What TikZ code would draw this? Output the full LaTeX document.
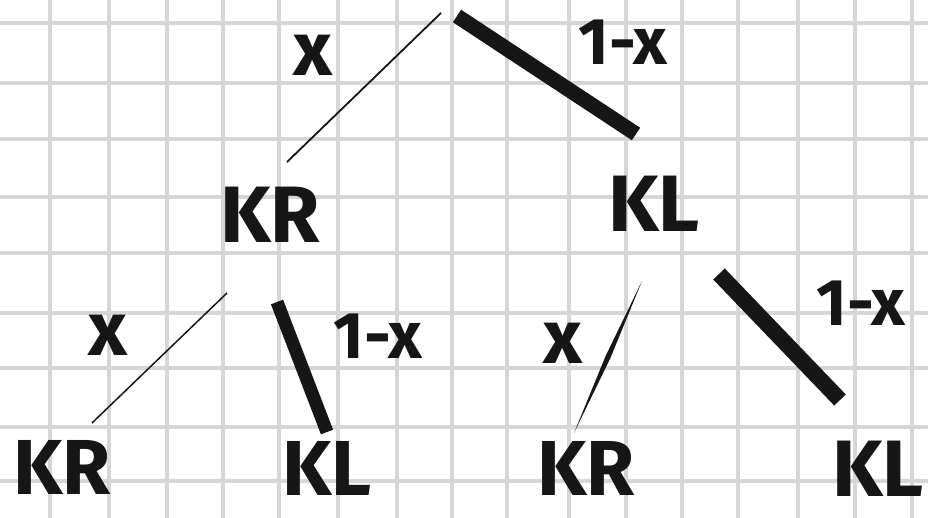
\documentclass[tikz,border=0pt]{standalone}
\usepackage{fontspec}
\setmainfont{Fira Sans}
\usetikzlibrary{calc}
\definecolor{gridgray}{RGB}{214,214,214}
\definecolor{ink}{RGB}{22,22,22}
\tikzset{
  gridline/.style={draw=gridgray,line width=4.5pt},
  state/.style={inner sep=0pt,anchor=base,text=ink,font=\fontsize{80}{80}\selectfont\bfseries},
  prob/.style={inner sep=0pt,anchor=base,text=ink,font=\fontsize{66}{66}\selectfont\bfseries},
  probx/.style={inner sep=0pt,anchor=base,text=ink,font=\fontsize{76}{76}\selectfont\bfseries},
  thinedge/.style={draw=ink,line width=1.8pt},
  thickedge/.style={draw=ink,line width=15pt},
}
\begin{document}
\begin{tikzpicture}[x=1pt,y=-1pt]
\useasboundingbox (0,0) rectangle (928,518);
\fill[white] (0,0) rectangle (928,518);
% grid
\foreach \gx in {50,109,167,223,279,338,397,452,507,569,626,682,738,798,855,912}
  \draw[gridline] (\gx,0) -- (\gx,518);
\foreach \gy in {23,83,139,197,253,313,368,427,481}
  \draw[gridline] (0,\gy) -- (928,\gy);
% states
\node[state] (kr1) at (270,243) {KR};
\node[state] (kl1) at (654,232) {KL};
\node[state,font=\fontsize{78}{78}\selectfont\bfseries] (kr2) at (62,494) {KR};
\node[state,font=\fontsize{78}{78}\selectfont\bfseries] (kl2) at (327,495) {KL};
\node[state,font=\fontsize{78}{78}\selectfont\bfseries] (kr3) at (586,495) {KR};
\node[state] (kl3) at (878,496) {KL};
% probabilities
\node[probx] (p1) at (313,76) {x};
\node[prob] (p2) at (623,65) {1-x};
\node[probx] (p3) at (108,355) {x};
\node[prob] (p4) at (378,358) {1-x};
\node[probx] (p5) at (563,363) {x};
\node[prob] (p6) at (861,326) {1-x};
% edge end points
\coordinate (root1) at (441,13);
\coordinate (root2) at (457,16);
\coordinate (a1) at (287,162);
\coordinate (a2) at (636,134);
\coordinate (b0) at (227,293);
\coordinate (b1) at (92,423);
\coordinate (c0) at (277,302);
\coordinate (c1) at (327,432);
\coordinate (d0) at (642,281);
\coordinate (d1) at (574,433);
\coordinate (e0) at (719,274);
\coordinate (e1) at (840,400);
% edges
\draw[thinedge] (root1) -- (a1);
\draw[thickedge] (root2) -- (a2);
\draw[thinedge,line width=1.5pt] (b0) -- (b1);
\draw[thickedge,line width=13pt] (c0) -- (c1);
\coordinate (dm) at ($(d0)!0.5!(d1)$);
\fill[ink] (d0) -- ($(dm)!2.6pt!90:(d1)$) -- (d1) -- ($(dm)!2.6pt!-90:(d1)$) -- cycle;
\draw[thickedge,line width=16pt] (e0) -- (e1);
\end{tikzpicture}
\end{document}
